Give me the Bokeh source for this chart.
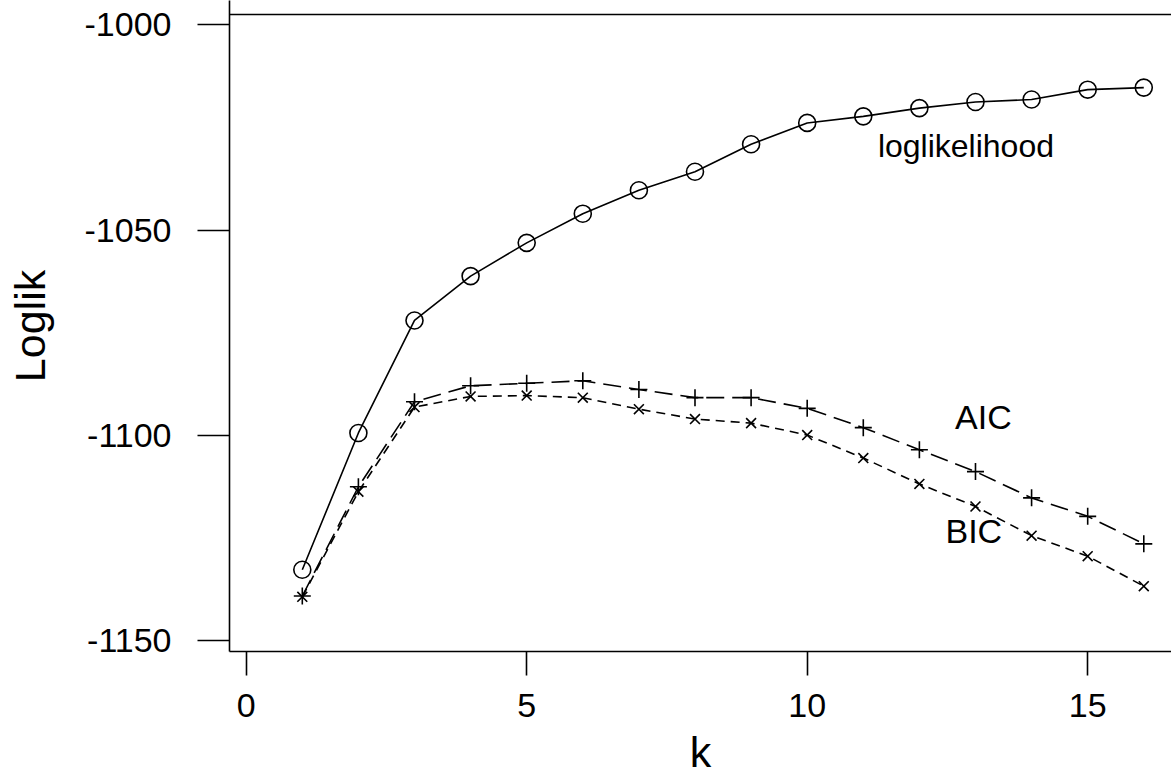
from bokeh.plotting import figure
from bokeh.models import Range1d, FixedTicker, Span
from bokeh.core.properties import value
from bokeh.embed import file_html
from bokeh.resources import INLINE

# ---- data ----
k = list(range(1, 17))
loglik = [-1132.7, -1099.4, -1072.0, -1061.2, -1053.1, -1046.0, -1040.3, -1035.8,
          -1029.1, -1023.9, -1022.3, -1020.3, -1018.8, -1018.2, -1015.8, -1015.3]
aic = [-1139.1, -1112.5, -1091.8, -1087.9, -1087.3, -1086.7, -1088.8, -1090.8,
       -1090.8, -1093.4, -1098.1, -1103.5, -1108.8, -1115.2, -1119.7, -1126.4]
bic = [-1139.3, -1113.7, -1093.1, -1090.5, -1090.3, -1090.8, -1093.6, -1096.0,
       -1097.0, -1099.9, -1105.5, -1111.8, -1117.3, -1124.4, -1129.4, -1136.7]
x_ticks = [0, 5, 10, 15]
y_ticks = [-1000, -1050, -1100, -1150]
y_tick_labels = ["-1000", "-1050", "-1100", "-1150"]
series_names = ["loglikelihood", "AIC", "BIC"]
x_title = "k"
y_title = "Loglik"

FONT = "Liberation Sans"
LW = 1.6

p = figure(width=1171, height=778, output_backend="svg", toolbar_location=None,
           x_range=Range1d(-0.2977, 16.494), y_range=Range1d(-1152.61, -994.09),
           min_border_left=229, min_border_right=0, min_border_top=0,
           min_border_bottom=126)
p.outline_line_color = None
p.grid.visible = False
p.background_fill_color = "white"
p.border_fill_color = "white"

for ax in (p.xaxis[0], p.yaxis[0]):
    ax.axis_line_width = LW
    ax.axis_line_color = "black"
    ax.major_tick_line_width = LW
    ax.major_tick_line_color = "black"
    ax.major_tick_in = 0
    ax.minor_tick_line_color = None
    ax.major_label_text_font = FONT
    ax.major_label_text_font_size = "34px"
    ax.major_label_text_color = "black"
    ax.axis_label_text_font = FONT
    ax.axis_label_text_font_size = "43px"
    ax.axis_label_text_font_style = "normal"
    ax.axis_label_text_color = "black"

p.xaxis.ticker = FixedTicker(ticks=x_ticks)
p.xaxis.major_tick_out = 24
p.xaxis.major_label_standoff = 18
p.xaxis.axis_label = x_title
p.xaxis.axis_label_standoff = 8
p.yaxis.ticker = FixedTicker(ticks=y_ticks)
p.yaxis.major_tick_out = 32
p.yaxis.major_label_standoff = 26
p.yaxis.major_label_overrides = {t: s for t, s in zip(y_ticks, y_tick_labels)}
p.yaxis.axis_label = y_title
p.yaxis.axis_label_standoff = 28

# top edge of the box
p.add_layout(Span(location=-997.5, dimension="width", line_color="black", line_width=LW))

# series
p.line(k, loglik, line_color="black", line_width=LW)
p.scatter(k, loglik, marker="circle", size=17, fill_color=None, line_color="black", line_width=LW)
p.line(k, aic, line_color="black", line_width=LW, line_dash="18 8")
p.scatter(k, aic, marker="cross", size=17, line_color="black", line_width=LW)
p.line(k, bic, line_color="black", line_width=LW, line_dash="9 6")
p.scatter(k, bic, marker="x", size=14, line_color="black", line_width=LW)

# in-plot labels
p.text(x=[12.83], y=[-1029.5], text=[series_names[0]], text_font=value(FONT),
       text_font_size="32px", text_align="center", text_baseline="middle", text_color="black")
p.text(x=[13.14, 12.97], y=[-1095.5, -1123.2], text=series_names[1:], text_font=value(FONT),
       text_font_size="34px", text_align="center", text_baseline="middle", text_color="black")

open("out.html", "w").write(file_html(p, INLINE))
